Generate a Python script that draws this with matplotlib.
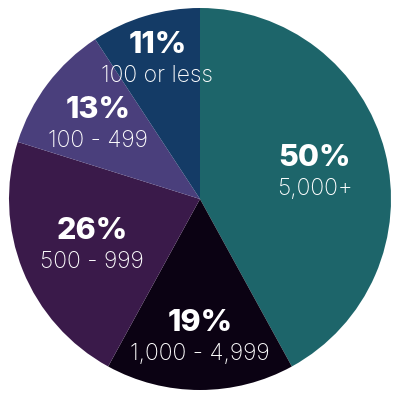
import numpy as np
import matplotlib.pyplot as plt

labels = ['5,000+', '1,000 - 4,999', '500 - 999', '100 - 499', '100 or less']
values = [50, 19, 26, 13, 11]
colors = ['#1d656a', '#0b0213', '#3a1a4a', '#4a3f7c', '#143b66']
label_r = [0.62, 0.71, 0.61, 0.67, 0.78]

plt.rcParams['font.family'] = ['Inter', 'DejaVu Sans']

fig = plt.figure(figsize=(4, 4), dpi=100)
ax = fig.add_axes([0, 0, 1, 1])
R = 191.0
wedges, _ = ax.pie(values, colors=colors, startangle=90, counterclock=False,
                   radius=1, wedgeprops={'linewidth': 0})

gap = 15.5 / R
shift = 4 / R
for w, v, lab, r in zip(wedges, values, labels, label_r):
    mid = np.deg2rad((w.theta1 + w.theta2) / 2)
    x, y = r * np.cos(mid), r * np.sin(mid) - shift
    ax.text(x, y + gap, f'{v}%', ha='center', va='center', color='white',
            fontsize=22, fontweight='heavy')
    ax.text(x, y - gap, lab, ha='center', va='center', color='white',
            fontsize=16.5, fontweight='light')

ax.set_xlim(-200 / R, 200 / R)
ax.set_ylim(-201 / R, 199 / R)
ax.set_aspect('auto')
ax.axis('off')

fig.savefig('out.png', dpi=100)
